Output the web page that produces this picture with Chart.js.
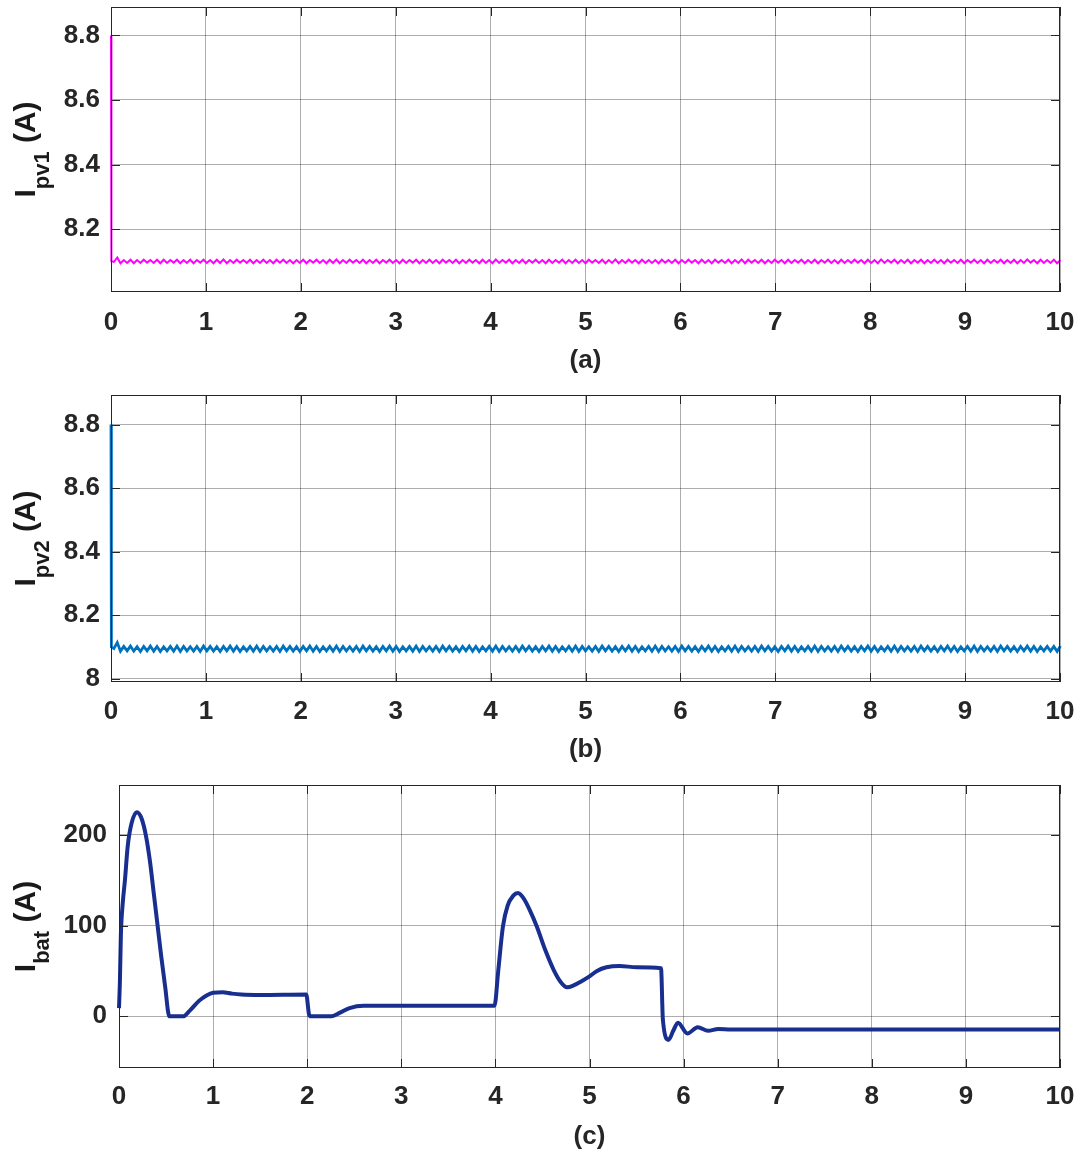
<!DOCTYPE html>
<html><head><meta charset="utf-8">
<script src="https://cdn.jsdelivr.net/npm/chart.js@4.4.1/dist/chart.umd.min.js"></script>
<style>
html,body{margin:0;padding:0;background:#fff;width:1083px;height:1155px;overflow:hidden;}
canvas{position:absolute;left:0;}
</style></head><body>
<canvas id="ca" width="1083" height="385" style="top:0px"></canvas>
<canvas id="cb" width="1083" height="385" style="top:388px"></canvas>
<canvas id="cc" width="1083" height="377" style="top:778px"></canvas>
<script>
// ---------- data ----------
const xTicks = [0,1,2,3,4,5,6,7,8,9,10];
const xTickLabels = ['0','1','2','3','4','5','6','7','8','9','10'];

const pv1Ticks = [8.2, 8.4, 8.6, 8.8];
const pv1TickLabels = ['8.2','8.4','8.6','8.8'];
const pv2Ticks = [8.0, 8.2, 8.4, 8.6, 8.8];
const pv2TickLabels = ['8','8.2','8.4','8.6','8.8'];
const batTicks = [0, 100, 200];
const batTickLabels = ['0','100','200'];

// start-up transient of the PV currents
const pv1StartTime  = [0, 0.004, 0.03, 0.066];
const pv1StartValue = [8.80, 8.10, 8.098, 8.112];
const pv2StartTime  = [0, 0.004, 0.03, 0.066];
const pv2StartValue = [8.80, 8.10, 8.095, 8.114];

// steady ripple, sampled every rippleStep seconds from rippleStart
const rippleStart = 0.1;
const rippleStep = 0.035;
const pv1Ripple = [
8.094,8.104,8.095,8.105,8.094,8.104,8.095,8.105,8.096,8.104,8.095,8.105,8.094,8.105,8.095,8.104,8.096,8.105,8.094,8.104,
8.095,8.105,8.094,8.104,8.096,8.105,8.095,8.104,8.094,8.105,8.095,8.106,8.094,8.104,8.095,8.105,8.096,8.104,8.095,8.105,
8.094,8.104,8.095,8.105,8.095,8.104,8.094,8.105,8.096,8.105,8.095,8.104,8.094,8.104,8.095,8.105,8.094,8.104,8.096,8.105,
8.095,8.104,8.094,8.105,8.095,8.106,8.094,8.104,8.095,8.105,8.096,8.104,8.095,8.105,8.094,8.104,8.095,8.105,8.094,8.104,
8.096,8.105,8.095,8.104,8.094,8.105,8.095,8.104,8.096,8.105,8.094,8.104,8.095,8.105,8.095,8.104,8.094,8.105,8.096,8.104,
8.095,8.105,8.094,8.104,8.095,8.105,8.096,8.104,8.094,8.105,8.095,8.104,8.094,8.106,8.095,8.104,8.096,8.105,8.094,8.104,
8.095,8.105,8.094,8.104,8.096,8.105,8.095,8.104,8.094,8.105,8.095,8.104,8.096,8.105,8.094,8.104,8.095,8.105,8.095,8.104,
8.094,8.105,8.096,8.104,8.095,8.105,8.094,8.104,8.095,8.106,8.094,8.104,8.095,8.105,8.096,8.104,8.094,8.105,8.095,8.104,
8.095,8.104,8.094,8.105,8.096,8.104,8.095,8.105,8.094,8.104,8.095,8.105,8.096,8.104,8.094,8.105,8.095,8.104,8.094,8.105,
8.096,8.104,8.095,8.105,8.094,8.104,8.095,8.106,8.094,8.105,8.096,8.104,8.095,8.105,8.094,8.104,8.095,8.105,8.096,8.104,
8.094,8.105,8.095,8.104,8.096,8.105,8.094,8.104,8.095,8.105,8.094,8.104,8.096,8.105,8.095,8.104,8.094,8.105,8.095,8.104,
8.095,8.105,8.096,8.104,8.094,8.105,8.095,8.104,8.094,8.106,8.095,8.104,8.096,8.105,8.094,8.104,8.095,8.105,8.094,8.104,
8.096,8.105,8.094,8.104,8.095,8.105,8.095,8.104,8.094,8.105,8.096,8.104,8.095,8.105,8.094,8.104,8.096,8.105,8.095,8.104,
8.094,8.105,8.095,8.104,8.096,8.105,8.094,8.104,8.095,8.105,8.094,8.104,8.095,8.106,8.096,8.104,8.094,8.105,8.095,8.104,
8.095,8.105,8.094,8.104
];
const pv2Ripple = [
8.087,8.102,8.088,8.103,8.087,8.101,8.086,8.102,8.088,8.103,8.087,8.102,8.086,8.101,8.088,8.102,8.087,8.103,8.086,8.102,
8.088,8.101,8.087,8.102,8.086,8.103,8.088,8.102,8.087,8.101,8.086,8.102,8.088,8.103,8.087,8.102,8.086,8.101,8.088,8.102,
8.087,8.103,8.086,8.102,8.088,8.101,8.087,8.102,8.086,8.103,8.088,8.102,8.087,8.101,8.086,8.102,8.088,8.103,8.087,8.102,
8.086,8.101,8.088,8.102,8.087,8.103,8.086,8.102,8.088,8.101,8.087,8.102,8.086,8.103,8.088,8.102,8.087,8.101,8.086,8.102,
8.088,8.103,8.087,8.102,8.086,8.101,8.088,8.102,8.087,8.103,8.086,8.102,8.088,8.101,8.087,8.102,8.086,8.103,8.088,8.102,
8.087,8.101,8.086,8.102,8.088,8.103,8.087,8.102,8.086,8.101,8.088,8.102,8.087,8.103,8.086,8.102,8.088,8.101,8.087,8.102,
8.086,8.103,8.088,8.102,8.087,8.101,8.086,8.102,8.088,8.103,8.087,8.102,8.086,8.101,8.088,8.102,8.087,8.103,8.086,8.102,
8.088,8.101,8.087,8.102,8.086,8.103,8.088,8.102,8.087,8.101,8.086,8.102,8.088,8.103,8.087,8.102,8.086,8.101,8.088,8.102,
8.087,8.103,8.086,8.102,8.088,8.101,8.087,8.102,8.086,8.103,8.088,8.102,8.087,8.101,8.086,8.102,8.088,8.103,8.087,8.102,
8.086,8.101,8.088,8.102,8.087,8.103,8.086,8.102,8.088,8.101,8.087,8.102,8.086,8.103,8.088,8.102,8.087,8.101,8.086,8.102,
8.088,8.103,8.087,8.102,8.086,8.101,8.088,8.102,8.087,8.103,8.086,8.102,8.088,8.101,8.087,8.102,8.086,8.103,8.088,8.102,
8.087,8.101,8.086,8.102,8.088,8.103,8.087,8.102,8.086,8.101,8.088,8.102,8.087,8.103,8.086,8.102,8.088,8.101,8.087,8.102,
8.086,8.103,8.088,8.102,8.087,8.101,8.086,8.102,8.088,8.103,8.087,8.102,8.086,8.101,8.088,8.102,8.087,8.103,8.086,8.102,
8.088,8.101,8.087,8.102,8.086,8.103,8.088,8.102,8.087,8.101,8.086,8.102,8.088,8.103,8.087,8.102,8.086,8.101,8.088,8.102,
8.087,8.102,8.086,8.103
];

// battery current
const batTime = [0, 0.01, 0.02, 0.04, 0.064, 0.092, 0.134, 0.19, 0.24, 0.29, 0.33, 0.37, 0.41, 0.45, 0.49, 0.535,
  0.68, 0.75, 0.85, 0.93, 1.0, 1.1, 1.2, 1.3, 1.5, 1.99, 2.02, 2.04,
  2.26, 2.35, 2.45, 2.6, 3.0, 3.5, 3.99,
  4.03, 4.08, 4.13, 4.19, 4.24, 4.30, 4.37, 4.44, 4.53, 4.62, 4.70, 4.76, 4.83, 4.92, 5.0, 5.08, 5.18, 5.32, 5.5, 5.76,
  5.78, 5.84, 5.89, 5.94, 6.04, 6.15, 6.26, 6.37, 6.5, 7.0, 8.0, 9.0, 10.0];
const batValue = [9, 40, 90, 125, 151, 187, 213, 225, 218, 197, 170, 135, 100, 65, 33, 0,
  0, 6, 17, 23, 26, 26.5, 25, 24, 23.5, 24, 2, 0,
  0, 4, 9, 11.5, 11.5, 11.5, 11.5,
  50, 99, 122, 133, 136, 130, 116, 99, 73, 51, 37, 32, 34, 39, 44, 50, 54, 55.5, 54, 53,
  -4, -26, -16, -7, -19, -12, -16, -14, -14.5, -14.5, -14.5, -14.5, -14.5];

// ---------- helpers ----------
const textColor = '#262626';
const gridColor = 'rgba(0,0,0,0.32)';
const FONT = '"Liberation Sans", Arial, sans-serif';

function buildPV(startT, startV, ripple) {
  const pts = startT.map((t, i) => ({x: t, y: startV[i]}));
  ripple.forEach((v, i) => pts.push({x: rippleStart + i * rippleStep, y: v}));
  return pts;
}

const boxPlugin = {
  id: 'matlabBox',
  afterDatasetsDraw(chart, args, o) {
    const {ctx, chartArea: a} = chart;
    const x = chart.scales.x, y = chart.scales.y;
    ctx.save();
    ctx.strokeStyle = textColor; ctx.lineWidth = 1;
    ctx.strokeRect(a.left + 0.5, a.top + 0.5, a.right - a.left - 1, a.bottom - a.top - 1);
    const L = 9;
    ctx.beginPath();
    x.ticks.forEach(t => {
      const px = Math.round(x.getPixelForValue(t.value)) + 0.5;
      ctx.moveTo(px, a.bottom); ctx.lineTo(px, a.bottom - L);
      ctx.moveTo(px, a.top); ctx.lineTo(px, a.top + L);
    });
    y.ticks.forEach(t => {
      const py = Math.round(y.getPixelForValue(t.value)) + 0.5;
      ctx.moveTo(a.left, py); ctx.lineTo(a.left + L, py);
      ctx.moveTo(a.right, py); ctx.lineTo(a.right - L, py);
    });
    ctx.stroke();
    // y-axis label with subscript
    const mainFont = 'bold 30px ' + FONT;
    const subFont = 'bold 22px ' + FONT;
    ctx.font = mainFont;
    const wI = ctx.measureText(o.main).width;
    const wU = ctx.measureText(' ' + o.unit).width;
    ctx.font = subFont;
    const wS = ctx.measureText(o.sub).width;
    const total = wI + wS + wU;
    const cy = (a.top + a.bottom) / 2;
    ctx.translate(o.x, cy);
    ctx.rotate(-Math.PI / 2);
    ctx.fillStyle = '#1a1a1a';
    ctx.textBaseline = 'alphabetic'; ctx.textAlign = 'left';
    let s = -total / 2;
    ctx.font = mainFont; ctx.fillText(o.main, s, 0); s += wI;
    ctx.font = subFont; ctx.fillText(o.sub, s, o.drop); s += wS;
    ctx.font = mainFont; ctx.fillText(' ' + o.unit, s, 0);
    ctx.restore();
  }
};

function makeChart(id, c) {
  return new Chart(document.getElementById(id), {
    type: 'line',
    data: { datasets: [{
      data: c.data, borderColor: c.color, borderWidth: c.lw, pointRadius: 0,
      fill: false, tension: 0,
      cubicInterpolationMode: c.mono ? 'monotone' : 'default',
      clip: 3
    }]},
    options: {
      responsive: false, animation: false, devicePixelRatio: 1,
      layout: { padding: { left: 0, top: 7, right: 23, bottom: 0 } },
      plugins: { legend: {display: false}, tooltip: {enabled: false},
        matlabBox: { main: 'I', sub: c.sub, unit: '(A)', x: 35, drop: 14 } },
      scales: {
        x: {
          type: 'linear', min: 0, max: 10,
          afterBuildTicks: s => { s.ticks = xTicks.map(v => ({value: v})); },
          afterFit: s => { s.height = c.xHeight; s.paddingLeft = 0; s.paddingRight = 0; },
          grid: { color: gridColor, lineWidth: 1, drawTicks: false },
          border: { display: false },
          ticks: { padding: c.xPad, color: textColor, maxRotation: 0, autoSkip: false,
            font: { family: FONT, size: 26, weight: 'bold' },
            callback: (v, i) => xTickLabels[i] },
          title: { display: true, text: c.title, color: textColor,
            font: { family: FONT, size: 26, weight: 'bold' },
            padding: { top: 0, bottom: c.titlePad } }
        },
        y: {
          type: 'linear', min: c.yMin, max: c.yMax,
          afterBuildTicks: s => { s.ticks = c.yTicks.map(v => ({value: v})); },
          afterFit: s => { s.width = c.yWidth; s.paddingTop = 0; s.paddingBottom = 0; },
          grid: { color: gridColor, lineWidth: 1, drawTicks: false },
          border: { display: false },
          ticks: { padding: c.yPad, color: textColor,
            font: { family: FONT, size: 26, weight: 'bold' },
            callback: (v, i) => c.yLabels[i] }
        }
      }
    },
    plugins: [boxPlugin]
  });
}

makeChart('ca', {
  data: buildPV(pv1StartTime, pv1StartValue, pv1Ripple), color: '#ff00ff', lw: 2,
  sub: 'pv1', title: '(a)', yMin: 8.005, yMax: 8.888, yTicks: pv1Ticks, yLabels: pv1TickLabels,
  yWidth: 111, yPad: 11, xHeight: 93, xPad: 15, titlePad: 9
});
makeChart('cb', {
  data: buildPV(pv2StartTime, pv2StartValue, pv2Ripple), color: '#0072bd', lw: 2.8,
  sub: 'pv2', title: '(b)', yMin: 7.99, yMax: 8.893, yTicks: pv2Ticks, yLabels: pv2TickLabels,
  yWidth: 111, yPad: 11, xHeight: 91, xPad: 14, titlePad: 7.5
});
makeChart('cc', {
  data: batTime.map((t, i) => ({x: t, y: batValue[i]})), color: '#182f8f', lw: 4, mono: true,
  sub: 'bat', title: '(c)', yMin: -57, yMax: 255, yTicks: batTicks, yLabels: batTickLabels,
  yWidth: 119, yPad: 12, xHeight: 87, xPad: 13, titlePad: 2.5
});
</script>
</body></html>
